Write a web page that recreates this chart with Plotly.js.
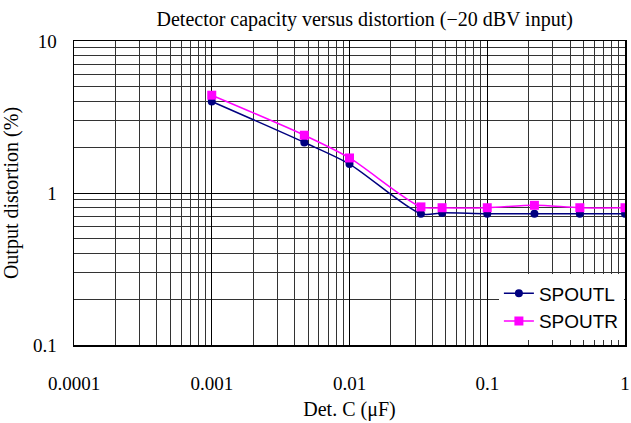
<!DOCTYPE html>
<html><head><meta charset="utf-8">
<script src="https://cdn.plot.ly/plotly-3.0.1.min.js"></script>
<style>html,body{margin:0;padding:0;background:#fff}#chart{width:631px;height:423px}</style>
</head><body><div id="chart"></div>
<script>
const detC = [0.001, 0.0047, 0.01, 0.033, 0.047, 0.1, 0.22, 0.47, 1];
const spoutL = [4.0, 2.15, 1.55, 0.73, 0.74, 0.73, 0.73, 0.73, 0.73];
const spoutR = [4.4, 2.4, 1.7, 0.81, 0.80, 0.80, 0.83, 0.80, 0.80];
const xTickVals = [0.0001, 0.001, 0.01, 0.1, 1];
const xTickText = ['0.0001', '0.001', '0.01', '0.1', '1'];
const yTickVals = [0.1, 1, 10];
const yTickText = ['0.1', '1', '10'];

const serif = 'Liberation Serif, Times New Roman, serif';
const traces = [
  {x: detC, y: spoutL, name: 'SPOUTL', mode: 'lines+markers', type: 'scatter',
   line: {color: '#000080', width: 1.5, shape: 'spline', smoothing: 0.8},
   marker: {symbol: 'circle', size: 8, color: '#000080'}},
  {x: detC, y: spoutR, name: 'SPOUTR', mode: 'lines+markers', type: 'scatter',
   line: {color: '#FF00FF', width: 1.5, shape: 'spline', smoothing: 0.8},
   marker: {symbol: 'square', size: 9, color: '#FF00FF'}}
];
const layout = {
  width: 631, height: 423,
  margin: {l: 74, r: 6, t: 41, b: 78},
  paper_bgcolor: '#fff', plot_bgcolor: '#fff',
  title: {text: 'Detector capacity versus distortion (\u221220 dBV input)', font: {family: serif, size: 20, color: '#000'},
          x: 0.578, xanchor: 'center', y: 0.972, yanchor: 'top'},
  showlegend: true,
  legend: {x: 0.998, xanchor: 'right', y: 0.015, yanchor: 'bottom', bgcolor: '#fff', borderwidth: 0,
           font: {family: 'Liberation Sans, Arial, sans-serif', size: 19, color: '#000'}, itemwidth: 30,
           tracegroupgap: 0},
  xaxis: {type: 'log', range: [-4, 0], tickvals: xTickVals, ticktext: xTickText,
          showgrid: true, gridcolor: '#000', gridwidth: 1, showline: true, linecolor: '#000', linewidth: 1.5, mirror: true,
          ticks: '', ticklabelstandoff: 21, ticklabeloverflow: 'allow', tickfont: {family: serif, size: 19, color: '#000'},
          minor: {dtick: 'D1', showgrid: true, gridcolor: '#333', gridwidth: 1, ticks: ''},
          title: {text: 'Det. C (\u03bcF)', font: {family: serif, size: 20, color: '#000'}, standoff: 8},
          zeroline: false},
  yaxis: {type: 'log', range: [-1, 1], tickvals: yTickVals, ticktext: yTickText,
          showgrid: true, gridcolor: '#000', gridwidth: 1, showline: true, linecolor: '#000', linewidth: 1.5, mirror: true,
          ticks: '', ticklabelstandoff: 12, tickfont: {family: serif, size: 19, color: '#000'},
          minor: {dtick: 'D1', showgrid: true, gridcolor: '#333', gridwidth: 1, ticks: ''},
          title: {text: 'Output distortion (%)', font: {family: serif, size: 20, color: '#000'}, standoff: 10},
          zeroline: false}
};
Plotly.newPlot('chart', traces, layout, {displayModeBar: false, staticPlot: true});
</script></body></html>
